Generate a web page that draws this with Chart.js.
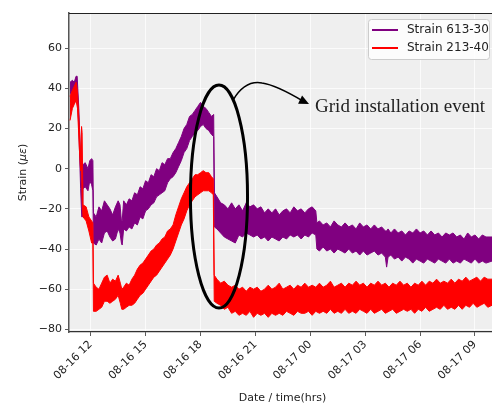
<!DOCTYPE html>
<html>
<head>
<meta charset="utf-8">
<script src="https://cdn.jsdelivr.net/npm/chart.js@4.4.0/dist/chart.umd.min.js"></script>
<style>
  html, body { margin: 0; padding: 0; background: #fff; overflow: hidden; }
  #wrap { width: 492px; height: 405px; }
</style>
</head>
<body>
<div id="wrap"><canvas id="strain-chart" width="492" height="405"></canvas></div>
<script>
// hours counted from 08-16 00:00
const X_TICKS       = [12, 15, 18, 21, 24, 27, 30, 33];
const X_TICK_LABELS = ['08-16 12', '08-16 15', '08-16 18', '08-16 21', '08-17 00', '08-17 03', '08-17 06', '08-17 09'];
const Y_TICKS       = [-80, -60, -40, -20, 0, 20, 40, 60];

const SERIES_LABELS = ['Strain 613-30', 'Strain 213-40'];
const SERIES_COLORS = ['#800080', '#ff0000'];

// Strain 613-30 (purple): noise band, upper / lower edge
const HOURS_P = [
  10.87, 11.0, 11.1, 11.2, 11.26, 11.35, 11.45, 11.51, 11.55, 11.58, 11.7, 11.85, 11.95, 12.05, 12.12,
  12.15, 12.3, 12.45, 12.6, 12.75, 12.9, 13.05, 13.2, 13.35, 13.5,
  13.6, 13.68, 13.72, 13.8, 13.95, 14.1, 14.25, 14.4, 14.55, 14.7,
  14.85, 15.0, 15.15, 15.3, 15.45, 15.6, 15.75, 15.9, 16.05, 16.2,
  16.35, 16.5, 16.65, 16.8, 16.95, 17.1, 17.25, 17.4, 17.55, 17.7,
  17.85, 18.0, 18.15, 18.3, 18.45, 18.6, 18.72,
  18.76, 18.9, 19.1, 19.3, 19.5, 19.7, 19.9, 20.1, 20.3, 20.5,
  20.7, 20.9, 21.1, 21.3, 21.5, 21.7, 21.9, 22.1, 22.3, 22.5,
  22.7, 22.9, 23.1, 23.3, 23.5, 23.7, 23.9, 24.1, 24.3,
  24.36, 24.5, 24.7, 24.9, 25.1, 25.3, 25.5, 25.7, 25.9, 26.1,
  26.3, 26.5, 26.7, 26.9, 27.1, 27.3, 27.5, 27.7, 27.9, 28.1,
  28.17, 28.25, 28.4, 28.6, 28.8, 29.0, 29.2, 29.4, 29.6, 29.8,
  30.0, 30.2, 30.4, 30.6, 30.8, 31.0, 31.2, 31.4, 31.6, 31.8,
  32.0, 32.2, 32.4, 32.6, 32.8, 33.0, 33.2, 33.4, 33.6, 33.93];
const P_UPPER = [
  43, 44, 43, 46, 46, 30, 5, -12, -8, 2, 3, 0, 4, 5, 4,
  -22, -24, -19, -21, -16, -18, -20, -23, -19, -16,
  -18, -26, -26, -16, -18, -15, -16, -12, -13, -9,
  -10, -6, -7, -3, -4, 0, -1, 3, 2, 5,
  5, 8, 10, 13, 16, 20, 22, 26, 27, 29,
  31, 33, 31, 30, 28, 26, 27,
  -12, -14, -17, -18, -20, -17, -20, -18, -21, -17,
  -19, -18, -20, -19, -22, -20, -22, -20, -23, -21,
  -20, -22, -19, -21, -20, -22, -20, -19, -21,
  -27, -26, -28, -27, -29, -26, -28, -29, -27, -29,
  -28, -30, -27, -29, -28, -30, -28, -30, -29, -31,
  -31, -30, -32, -30, -32, -31, -33, -31, -32, -30,
  -32, -31, -33, -31, -33, -32, -34, -32, -33, -32,
  -34, -33, -35, -32, -34, -33, -35, -33, -34, -34];
const P_LOWER = [
  37, 38, 39, 40, 38, 20, -10, -24, -24, -10, -9, -11, -6, -8, -11,
  -37, -38, -35, -37, -32, -31, -34, -36, -35, -30,
  -32, -37, -38, -30, -31, -29, -30, -27, -28, -24,
  -25, -21, -20, -18, -17, -14, -13, -12, -11, -7,
  -5, -4, -2, 1, 4, 8, 10, 14, 16, 18,
  19, 21, 22, 20, 19, 17, 16,
  -29, -30, -32, -34, -35, -36, -37, -33, -34, -32,
  -33, -34, -33, -35, -34, -36, -34, -35, -36, -34,
  -35, -33, -34, -33, -35, -33, -34, -32, -33,
  -40, -41, -39, -41, -40, -42, -40, -41, -42, -40,
  -42, -41, -43, -41, -43, -42, -41, -43, -42, -44,
  -49, -44, -43, -45, -44, -46, -44, -45, -47, -45,
  -46, -47, -45, -46, -47, -45, -46, -47, -45, -47,
  -46, -47, -45, -46, -47, -45, -47, -46, -47, -46];

// Strain 213-40 (red): noise band, upper / lower edge
const HOURS_R = [
  10.87, 11.0, 11.1, 11.2, 11.28, 11.38, 11.45, 11.5, 11.53, 11.58, 11.75, 11.9, 12.05, 12.12,
  12.15, 12.3, 12.45, 12.6, 12.75, 12.9, 13.05, 13.2, 13.35, 13.5,
  13.62, 13.7, 13.8, 13.95, 14.1, 14.25, 14.4, 14.55, 14.7, 14.85,
  15.0, 15.15, 15.3, 15.45, 15.6, 15.75, 15.9, 16.05, 16.2, 16.35,
  16.5, 16.65, 16.8, 16.95, 17.1, 17.25, 17.4, 17.55, 17.7, 17.85,
  18.0, 18.15, 18.3, 18.45, 18.6, 18.7,
  18.75, 18.9, 19.1, 19.3, 19.5, 19.7, 19.9, 20.1, 20.3, 20.5,
  20.7, 20.9, 21.1, 21.3, 21.5, 21.7, 21.9, 22.1, 22.3, 22.5,
  22.7, 22.9, 23.1, 23.3, 23.5, 23.7, 23.9, 24.1, 24.3, 24.5,
  24.7, 24.9, 25.1, 25.3, 25.5, 25.7, 25.9, 26.1, 26.3, 26.5,
  26.7, 26.9, 27.1, 27.3, 27.5, 27.7, 27.9, 28.1, 28.3, 28.5,
  28.7, 28.9, 29.1, 29.3, 29.5, 29.7, 29.9, 30.1, 30.3, 30.5,
  30.7, 30.9, 31.1, 31.3, 31.5, 31.7, 31.9, 32.1, 32.3, 32.5,
  32.7, 32.9, 33.1, 33.3, 33.5, 33.7, 33.93];
const R_UPPER = [
  36, 39, 41, 43, 38, 20, 5, 21, 18, -18, -19, -24, -26, -27,
  -57, -59, -60, -57, -54, -53, -57, -55, -56, -53,
  -57, -60, -59, -57, -58, -55, -53, -50, -48, -47,
  -45, -43, -41, -40, -38, -37, -35, -34, -31, -30,
  -28, -23, -19, -15, -12, -9, -7, -5, -3, -3,
  -2, -1, -2, -2, -4, -5,
  -53, -55, -57, -56, -58, -59, -58, -60, -59, -61,
  -59, -60, -59, -61, -60, -58, -60, -59, -57, -60,
  -59, -58, -60, -58, -59, -57, -59, -58, -59, -57,
  -59, -58, -56, -59, -58, -57, -59, -57, -58, -56,
  -58, -57, -59, -57, -58, -56, -58, -57, -59, -57,
  -58, -56, -58, -57, -59, -57, -58, -56, -58, -56,
  -57, -55, -57, -56, -57, -55, -57, -55, -56, -54,
  -56, -55, -54, -56, -54, -55, -55];
const R_LOWER = [
  24, 30, 32, 34, 30, 10, -1, 2, -15, -24, -26, -31, -37, -37,
  -71, -71, -70, -69, -66, -66, -67, -66, -65, -63,
  -67, -70, -70, -69, -68, -68, -67, -65, -63, -62,
  -60, -58, -56, -54, -53, -51, -49, -47, -45, -43,
  -40, -36, -32, -28, -25, -21, -18, -16, -14, -13,
  -12, -11, -11, -11, -12, -13,
  -66, -67, -68, -70, -69, -72, -71, -73, -72, -73,
  -71, -74, -72, -73, -72, -74, -72, -73, -72, -73,
  -71, -72, -73, -71, -72, -72, -71, -73, -71, -72,
  -71, -72, -70, -72, -71, -72, -70, -72, -71, -72,
  -70, -71, -72, -70, -72, -71, -70, -72, -71, -70,
  -72, -71, -70, -71, -70, -72, -70, -71, -69, -71,
  -70, -69, -70, -68, -70, -69, -70, -68, -70, -68,
  -69, -67, -69, -68, -67, -69, -68];

// annotation anchors, in data units (hours, strain)
const ELLIPSE_CENTER = [19.01, -13.9];
const ELLIPSE_RADII  = [1.56, 55.5];
const ARROW_PATH     = [[19.78, 34.15], [20.43, 44.15], [21.36, 42.65], [22.13, 41.65], [23.6, 33.65], [23.93, 32.15]];
const ANNOT_TEXT     = 'Grid installation event';
const ANNOT_POS      = [24.26, 28];

const FONT = "'DejaVu Sans', sans-serif";
const pts = (xs, ys) => xs.map((x, i) => ({ x, y: ys[i] }));

function band(label, color, xs, hi, lo) {
  const base = { borderColor: color, backgroundColor: color, borderWidth: 1, pointRadius: 0, tension: 0 };
  return [
    { ...base, label: label, data: pts(xs, hi), fill: '+1' },
    { ...base, label: label + ' low', data: pts(xs, lo), fill: false },
  ];
}

const decor = {
  id: 'decor',
  beforeDraw(chart) {
    const { ctx, chartArea: a } = chart;
    ctx.save();
    ctx.fillStyle = '#efefef';
    ctx.fillRect(a.left, a.top, a.right - a.left, a.bottom - a.top);
    ctx.restore();
  },
  afterDraw(chart) {
    const { ctx, chartArea: a, scales: { x, y } } = chart;
    const px = p => [x.getPixelForValue(p[0]), y.getPixelForValue(p[1])];
    ctx.save();

    // top spine
    ctx.strokeStyle = '#222'; ctx.lineWidth = 1.2;
    ctx.beginPath(); ctx.moveTo(a.left, a.top + 0.5); ctx.lineTo(a.right, a.top + 0.5); ctx.stroke();

    // ellipse round the event
    const [cx, cy] = px(ELLIPSE_CENTER);
    const rx = x.getPixelForValue(ELLIPSE_CENTER[0] + ELLIPSE_RADII[0]) - cx;
    const ry = cy - y.getPixelForValue(ELLIPSE_CENTER[1] + ELLIPSE_RADII[1]);
    ctx.strokeStyle = '#000'; ctx.lineWidth = 3;
    ctx.beginPath(); ctx.ellipse(cx, cy, rx, ry, 0, 0, Math.PI * 2); ctx.stroke();

    // curved arrow
    const p = ARROW_PATH.map(px);
    ctx.lineWidth = 1.5;
    ctx.beginPath();
    ctx.moveTo(p[0][0], p[0][1]);
    ctx.quadraticCurveTo(p[1][0], p[1][1], p[2][0], p[2][1]);
    ctx.quadraticCurveTo(p[3][0], p[3][1], p[4][0], p[4][1]);
    ctx.stroke();
    const ang = Math.atan2(p[5][1] - p[4][1], p[5][0] - p[4][0]);
    const tip = p[5], len = 10, half = 4.5;
    ctx.fillStyle = '#000';
    ctx.beginPath();
    ctx.moveTo(tip[0], tip[1]);
    ctx.lineTo(tip[0] - len * Math.cos(ang) + half * Math.sin(ang), tip[1] - len * Math.sin(ang) - half * Math.cos(ang));
    ctx.lineTo(tip[0] - len * Math.cos(ang) - half * Math.sin(ang), tip[1] - len * Math.sin(ang) + half * Math.cos(ang));
    ctx.closePath(); ctx.fill();

    // annotation text
    const [tx, ty] = px(ANNOT_POS);
    ctx.fillStyle = '#222';
    ctx.font = "19px 'Liberation Serif', serif";
    ctx.textAlign = 'left'; ctx.textBaseline = 'alphabetic';
    ctx.fillText(ANNOT_TEXT, tx, ty);

    // legend box, upper right
    const bw = 121, bh = 40, bx = a.right - bw - 3, by = a.top + 6;
    ctx.fillStyle = 'rgba(255,255,255,0.8)'; ctx.strokeStyle = '#cccccc'; ctx.lineWidth = 1;
    ctx.beginPath(); ctx.roundRect(bx + 0.5, by + 0.5, bw, bh, 3); ctx.fill(); ctx.stroke();
    ctx.font = '12px ' + FONT; ctx.textBaseline = 'middle';
    SERIES_LABELS.forEach((lab, i) => {
      const ly = by + 11 + i * 18;
      ctx.strokeStyle = SERIES_COLORS[i]; ctx.lineWidth = 2;
      ctx.beginPath(); ctx.moveTo(bx + 4, ly); ctx.lineTo(bx + 30, ly); ctx.stroke();
      ctx.fillStyle = '#222';
      ctx.fillText(lab, bx + 39, ly);
    });

    // axis titles
    ctx.fillStyle = '#222'; ctx.font = '11px ' + FONT;
    ctx.textAlign = 'center'; ctx.textBaseline = 'middle';
    ctx.fillText('Date / time(hrs)', (a.left + a.right) / 2 + 2, 398);
    ctx.translate(23, (a.top + a.bottom) / 2);
    ctx.rotate(-Math.PI / 2);
    const parts = [['Strain (', '11px ' + FONT], ['\u03bc\u03b5', 'italic 11px ' + FONT], [')', '11px ' + FONT]];
    let w = 0;
    parts.forEach(([t, f]) => { ctx.font = f; w += ctx.measureText(t).width; });
    let ox = -w / 2;
    ctx.textAlign = 'left';
    parts.forEach(([t, f]) => { ctx.font = f; ctx.fillText(t, ox, 0); ox += ctx.measureText(t).width; });
    ctx.restore();
  },
};

new Chart(document.getElementById('strain-chart'), {
  type: 'line',
  data: {
    datasets: [
      ...band(SERIES_LABELS[1], SERIES_COLORS[1], HOURS_R, R_UPPER, R_LOWER),
      ...band(SERIES_LABELS[0], SERIES_COLORS[0], HOURS_P, P_UPPER, P_LOWER),
    ],
  },
  options: {
    responsive: false, animation: false,
    layout: { padding: { left: 0, right: 0, top: 13, bottom: 0 } },
    plugins: { legend: { display: false }, tooltip: { enabled: false } },
    scales: {
      x: {
        type: 'linear', min: 10.814, max: 33.929,
        afterBuildTicks: s => { s.ticks = X_TICKS.map(v => ({ value: v })); },
        afterFit: s => { s.height = 73; s.paddingLeft = 0; s.paddingRight = 0; },
        grid: { color: 'rgba(255,255,255,0.9)', borderDash: [2, 3], lineWidth: 0.8, tickLength: 4, tickColor: '#333', tickBorderDash: [] },
        border: { color: '#333', width: 1.2 },
        ticks: {
          autoSkip: false, minRotation: 45, maxRotation: 45, padding: 2,
          color: '#222', font: { family: FONT, size: 11 },
          callback: v => X_TICK_LABELS[X_TICKS.indexOf(v)] ?? '',
        },
      },
      y: {
        min: -81.3, max: 77.5,
        afterBuildTicks: s => { s.ticks = Y_TICKS.map(v => ({ value: v })); },
        afterFit: s => { s.width = 69; },
        grid: { color: 'rgba(255,255,255,0.9)', borderDash: [2, 3], lineWidth: 0.8, tickLength: 4, tickColor: '#333', tickBorderDash: [] },
        border: { color: '#555', width: 1.5 },
        ticks: {
          padding: 3, color: '#222', font: { family: FONT, size: 11 },
          callback: v => String(v).replace('-', '\u2212'),
        },
      },
    },
  },
  plugins: [decor],
});
</script>
</body>
</html>
